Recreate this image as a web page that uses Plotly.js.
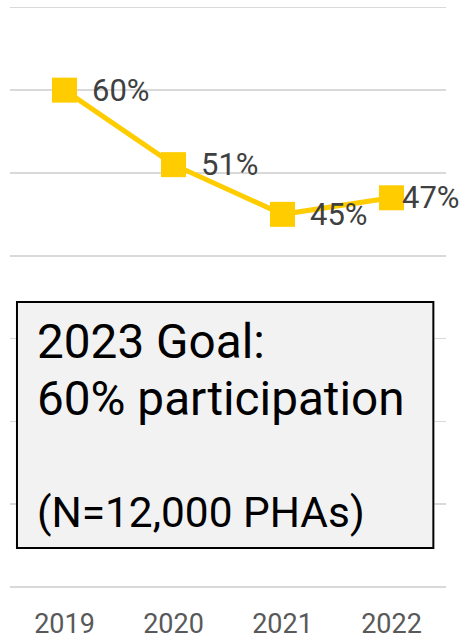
<!DOCTYPE html>
<html>
<head>
<meta charset="utf-8">
<script src="https://cdn.plot.ly/plotly-3.0.1.min.js"></script>
<style>html,body{margin:0;padding:0;background:#fff;}#chart{width:464px;height:641px;}</style>
</head>
<body>
<div id="chart"></div>
<script>
var years = ['2019', '2020', '2021', '2022'];
var participation = [60, 51, 45, 47];
var labelShift = [25, 25, 25, 8];
var boxLines = ['2023 Goal:', '60% participation', '(N=12,000 PHAs)'];
var boxLineSize = [47.7, 47.7, 42.4];
var boxLineY = [0.4194, 0.3233, 0.1276];

var gold = '#FFCC00';

var trace = {
  type: 'scatter',
  mode: 'lines+markers',
  x: years,
  y: participation,
  line: {color: gold, width: 5},
  marker: {symbol: 'square', size: 25, color: gold},
  hoverinfo: 'skip',
  cliponaxis: false
};

var annotations = participation.map(function (v, i) {
  return {
    x: i, y: v, xref: 'x', yref: 'y',
    text: v + '%', showarrow: false,
    xanchor: 'left', yanchor: 'middle',
    xshift: labelShift[i],
    font: {family: 'Roboto', size: 31, color: '#404040'}
  };
});

boxLines.forEach(function (t, i) {
  annotations.push({
    x: 0.0562, y: boxLineY[i], xref: 'paper', yref: 'paper',
    text: t, showarrow: false, xanchor: 'left', yanchor: 'middle',
    font: {family: 'Roboto', size: boxLineSize[i], color: '#000000'}
  });
});

var layout = {
  width: 464, height: 641,
  margin: {l: 10, r: 18, t: 4, b: 54},
  paper_bgcolor: '#ffffff', plot_bgcolor: '#ffffff',
  showlegend: false,
  font: {family: 'Roboto'},
  xaxis: {
    type: 'category',
    range: [-0.5, 3.5],
    showgrid: false, zeroline: false, showline: false,
    ticks: '',
    ticklabelstandoff: 18,
    tickfont: {family: 'Roboto', size: 27, color: '#595959'},
    fixedrange: true
  },
  yaxis: {
    range: [0, 70.4],
    dtick: 10,
    showticklabels: false,
    showgrid: true, gridcolor: '#d9d9d9', gridwidth: 1.6,
    zeroline: true, zerolinecolor: '#d9d9d9', zerolinewidth: 1.6,
    showline: false, ticks: '',
    fixedrange: true
  },
  shapes: [{
    type: 'rect', xref: 'paper', yref: 'paper',
    x0: 0.016, x1: 0.971, y0: 0.0669, y1: 0.4889,
    fillcolor: '#f2f2f2',
    line: {color: '#000000', width: 2},
    layer: 'above'
  }],
  annotations: annotations
};

Plotly.newPlot('chart', [trace], layout, {staticPlot: true, displayModeBar: false});
</script>
</body>
</html>
